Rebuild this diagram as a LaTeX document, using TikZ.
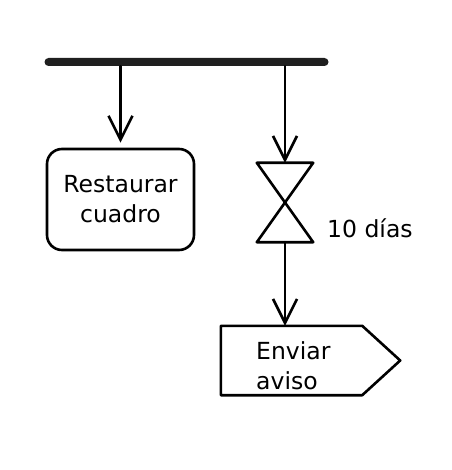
\documentclass[tikz,border=0pt]{standalone}
\usepackage{fontspec}
\setmainfont{DejaVu Sans}
\usetikzlibrary{arrows.meta}
\usetikzlibrary{positioning}

\tikzset{
    flow/.style={line width=2.6pt, -{Straight Barb[length=24pt, width=24pt, line width=2.6pt]}},
    txt/.style={font=\fontsize{23.5}{30}\selectfont, align=left, inner sep=0pt}
}

\begin{document}
\begin{tikzpicture}[x=1pt, y=-1pt, line join=round, line cap=round]
        \useasboundingbox (0,0) rectangle (451,470);

        % Fork bar at the top
        \node[fill=black!88, rounded corners=4pt, minimum width=284pt, minimum height=8pt, inner sep=0pt] (fork) at (186.5,62) {};

        % Action box on the left
        \node[draw, line width=2.6pt, rounded corners=15pt, minimum width=147pt, minimum height=101pt, txt, align=center] (restore) at (120.5,199.5) {Restaurar\\cuadro};

        % Time event (hourglass) on the right
        \node[minimum width=56pt, minimum height=79pt, inner sep=0pt] (timer) at (285,202.5) {};
        \draw[line width=2.6pt] (timer.north west) -- (timer.north east) -- (timer.south west) -- (timer.south east) -- cycle;
        \node[txt, anchor=west] (wait) at (327,228) {10 días};

        % Send signal (pentagon)
        \node[minimum width=179pt, minimum height=69pt, inner sep=0pt] (notice) at (310.5,360.5) {};
        \draw[line width=2.6pt] (notice.north west) -- ([xshift=-38pt]notice.north east) -- (notice.east) -- ([xshift=-38pt]notice.south east) -- (notice.south west) -- cycle;
        \node[txt, anchor=west] (noticetext) at (256,366) {Enviar\\aviso};

        % Connectors
        \draw[flow, shorten >=5pt] (fork.south -| restore.north) -- (restore.north);
        \draw[flow] (fork.south -| timer.north) -- (timer.north);
        \draw[flow] (timer.south) -- (timer.south |- notice.north);
\end{tikzpicture}
\end{document}
